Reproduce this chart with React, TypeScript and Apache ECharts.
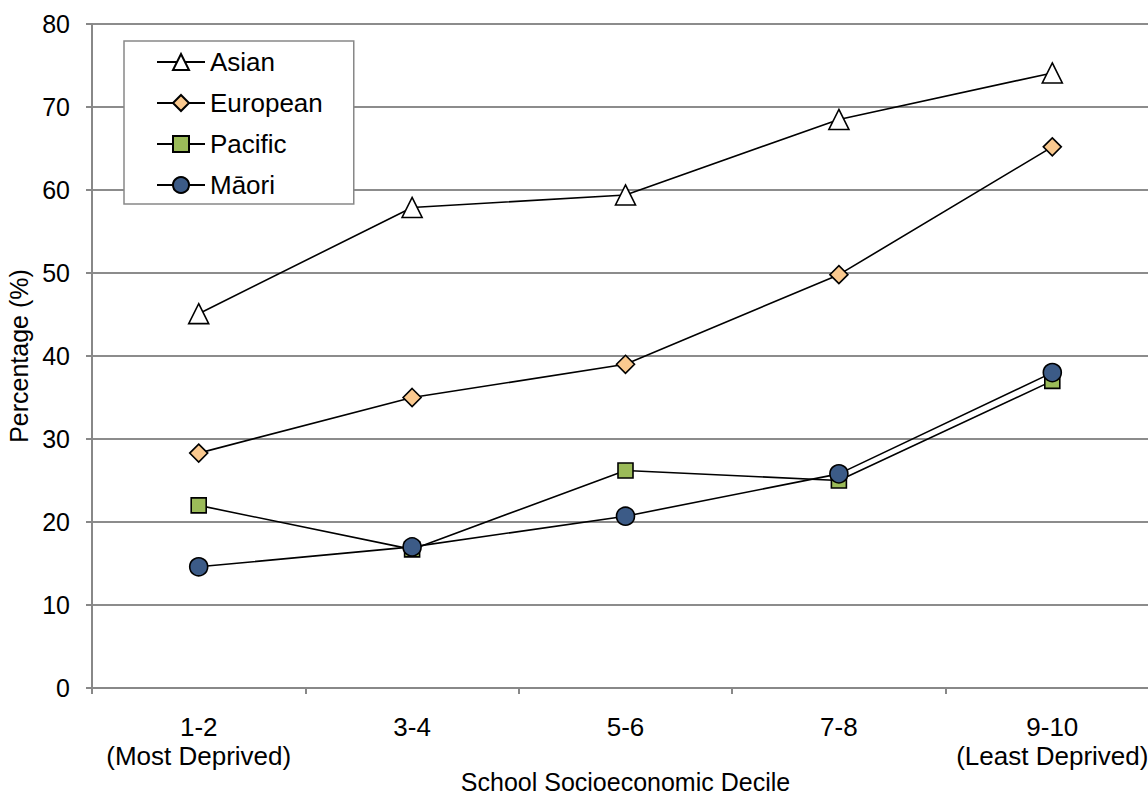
import React, { useEffect, useRef } from "react";
import * as echarts from "echarts";

const categories = ["1-2\n(Most Deprived)", "3-4", "5-6", "7-8", "9-10\n(Least Deprived)"];
const asian = [45.1, 57.9, 59.4, 68.5, 74.1];
const european = [28.3, 35.0, 39.0, 49.8, 65.2];
const pacific = [22.0, 16.7, 26.2, 25.0, 37.0];
const maori = [14.6, 17.0, 20.7, 25.8, 38.0];
const yTicks = { min: 0, max: 80, interval: 10 };

const FONT = "Liberation Sans, Arial, sans-serif";

export default function App() {
  const ref = useRef<HTMLDivElement>(null);
  useEffect(() => {
    if (!ref.current) return;
    const chart = echarts.init(ref.current, null, { renderer: "svg" });
    const lineStyle = { color: "#000", width: 1.6 };
    const mk = (name: string, data: number[], symbol: string, size: number, fill: string) => ({
      name,
      type: "line",
      data,
      symbol,
      symbolSize: size,
      lineStyle,
      itemStyle: { color: fill, borderColor: "#000", borderWidth: 1.6 },
      emphasis: { disabled: true },
    });
    chart.setOption({
      animation: false,
      backgroundColor: "#fff",
      textStyle: { fontFamily: FONT },
      grid: { left: 92, right: -11, top: 24, bottom: 112, containLabel: false, outerBoundsMode: "none" },
      legend: {
        left: 124,
        top: 41,
        orient: "vertical",
        backgroundColor: "#fff",
        borderColor: "#888",
        borderWidth: 1.5,
        borderRadius: 0,
        padding: [8, 31, 6, 32],
        itemWidth: 48,
        itemHeight: 20,
        itemGap: 15,
        textStyle: { fontSize: 26, color: "#000", fontFamily: FONT },
        data: ["Asian", "European", "Pacific", "Māori"],
      },
      xAxis: {
        type: "category",
        data: categories,
        boundaryGap: true,
        name: "School Socioeconomic Decile",
        nameLocation: "middle",
        nameGap: 81,
        nameMoveOverlap: false,
        nameTextStyle: { fontSize: 25, lineHeight: 26, color: "#000", fontFamily: FONT, verticalAlign: "top" },
        axisLine: { lineStyle: { color: "#888", width: 2 } },
        axisTick: { show: true, length: 6, lineStyle: { color: "#888", width: 2 } },
        axisLabel: { fontSize: 26, color: "#000", margin: 24, lineHeight: 29, interval: 0, fontFamily: FONT },
        splitLine: { show: false },
      },
      yAxis: {
        type: "value",
        min: yTicks.min,
        max: yTicks.max,
        interval: yTicks.interval,
        name: "Percentage (%)",
        nameLocation: "middle",
        nameGap: 57,
        nameTextStyle: { fontSize: 25, color: "#000", fontFamily: FONT },
        axisLine: { show: true, lineStyle: { color: "#888", width: 2 } },
        axisTick: { show: true, length: 6, lineStyle: { color: "#888", width: 2 } },
        axisLabel: { fontSize: 25, color: "#000", margin: 22, fontFamily: FONT },
        splitLine: { show: true, lineStyle: { color: "#8c8c8c", width: 2 } },
      },
      series: [
        mk("Asian", asian, "triangle", 20, "#fff"),
        mk("European", european, "diamond", 18, "#FAC98F"),
        mk("Pacific", pacific, "rect", 15, "#9BBB59"),
        mk("Māori", maori, "circle", 18, "#3C5B87"),
      ],
    });
    return () => chart.dispose();
  }, []);
  return (
    <div style={{ position: "fixed", left: 0, top: 0, width: 1148, height: 800, overflow: "hidden" }}>
      <div ref={ref} style={{ width: 1148, height: 800 }} />
    </div>
  );
}
